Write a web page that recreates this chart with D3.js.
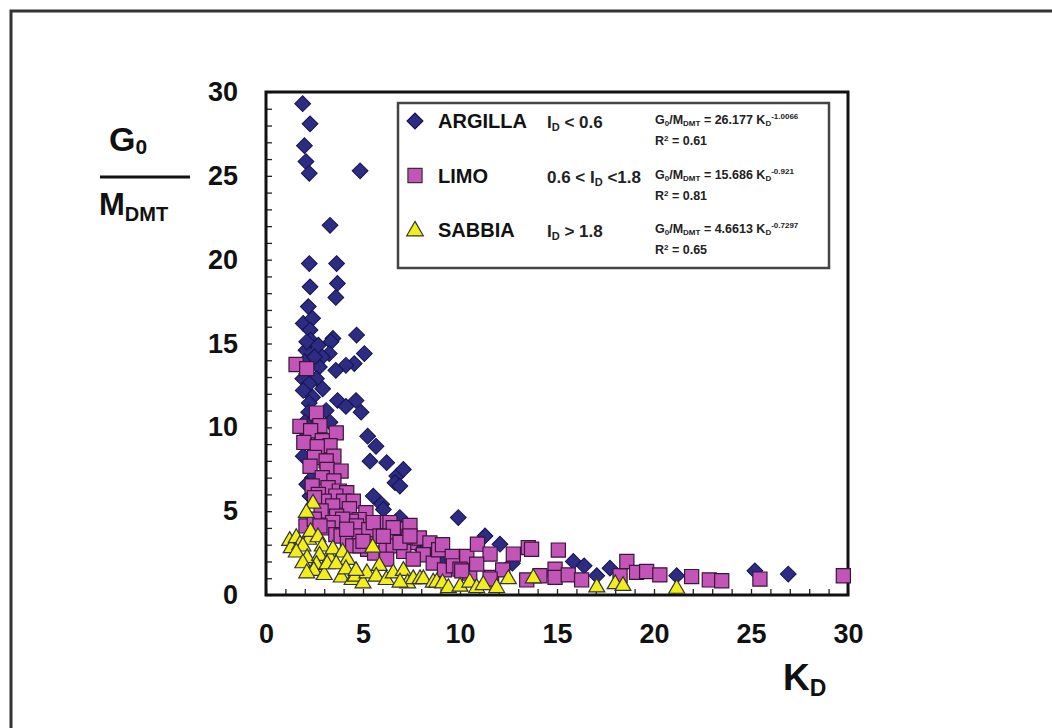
<!DOCTYPE html>
<html>
<head>
<meta charset="utf-8">
<script src="https://cdn.jsdelivr.net/npm/d3@7"></script>
<style>
  body { margin: 0; background: #fff; }
  svg { display: block; font-family: "Liberation Sans", Arial, sans-serif; }
</style>
</head>
<body>
<div id="chart"></div>
<script>
// K_D, G0/M_DMT pairs
const argilla = [
  [1.89,29.3],[2.27,28.1],[1.98,26.8],[2.06,25.85],[2.23,25.15],[4.85,25.3],[3.3,22.05],
  [2.23,19.77],[3.64,19.77],[2.27,18.38],[3.68,18.58],[3.6,17.75],[2.18,17.2],[1.92,16.2],
  [2.4,16.5],[2.27,15.8],[3.45,15.3],[4.67,15.5],[2.06,14.6],[2.3,15.2],[2.1,15.1],[2.7,14.9],
  [3.35,15.1],[5.07,14.4],[3.26,14.4],[2.9,14.2],[4.55,13.8],[4.12,13.7],[3.6,13.4],[2.75,13.6],
  [2.0,13.9],[2.5,14.2],[2.1,13.2],[2.6,12.9],[1.9,12.9],[2.23,12.6],[2.92,12.3],[1.92,12.2],
  [3.69,11.6],[4.64,11.6],[4.12,11.25],[4.9,10.9],[2.4,11.8],[2.23,11.45],[3.1,11.0],
  [2.2,10.9],[2.5,10.5],[3.3,10.3],[2.0,10.3],[2.8,9.6],[5.24,9.47],[2.6,9.0],[5.67,8.87],
  [1.92,8.28],[2.1,9.5],[3.0,8.5],[5.36,7.98],[6.22,7.89],[6.74,7.09],[7.08,7.49],[2.4,7.0],
  [6.65,6.7],[2.1,6.6],[6.9,6.5],[5.53,5.9],[5.96,5.41],[6.05,5.1],[6.9,4.62],[2.27,5.9],
  [2.95,4.32],[4.3,3.6],[7.8,3.0],[8.2,2.7],[9.91,4.62],[11.29,3.52],[12.06,3.03],[9.14,2.3],
  [12.7,1.9],[15.84,2.0],[16.4,1.74],[17.73,1.6],[17.05,1.15],[21.17,1.15],[25.2,1.44],
  [26.92,1.25]
];
const limo = [
  [1.55,13.75],[2.1,13.5],[2.6,10.85],[1.75,10.06],[2.78,10.1],[2.3,9.8],[3.62,9.67],
  [2.9,9.2],[1.95,9.1],[3.3,8.9],[2.64,8.85],[3.5,8.28],[2.5,8.2],[3.1,8.0],[2.27,7.68],
  [3.15,7.49],[3.87,7.39],[2.9,7.0],[3.5,6.8],[2.38,6.5],[3.2,6.4],[3.78,6.2],[4.16,6.1],
  [2.7,6.0],[3.6,5.9],[3.0,5.6],[2.5,5.8],[4.0,5.6],[4.5,5.6],[4.3,5.15],[3.44,5.31],
  [2.84,5.01],[5.15,4.91],[3.64,4.7],[4.8,4.5],[4.4,4.4],[5.84,4.32],[3.95,4.52],[4.66,4.12],
  [3.44,4.32],[3.2,4.0],[3.6,3.6],[3.87,3.52],[4.2,3.3],[4.81,3.52],[5.5,3.72],[5.3,3.9],
  [6.01,3.52],[4.47,2.93],[5.24,2.73],[5.6,2.5],[6.19,2.73],[2.06,4.12],[2.49,4.52],
  [2.78,4.12],[4.16,3.92],[5.53,4.32],[6.39,4.32],[6.91,3.92],[7.42,4.15],[4.85,2.93],
  [5.0,3.2],[5.88,3.52],[6.6,3.5],[6.56,2.93],[7.42,3.13],[7.9,3.4],[7.1,2.6],[8.45,3.1],
  [8.11,2.4],[8.62,1.9],[6.56,4.02],[6.05,3.5],[6.91,3.13],[7.42,3.52],[7.59,2.14],[8.9,2.7],
  [9.1,3.0],[9.2,1.5],[9.6,2.3],[9.66,1.74],[10.35,2.3],[10.9,3.03],[11.55,2.44],[11.63,1.05],
  [10.5,1.3],[10.86,1.84],[12.2,1.5],[12.75,2.44],[13.52,2.83],[13.44,0.9],[6.22,2.14],
  [10.0,1.54],[10.09,1.44],[11.55,0.95],[13.69,2.73],[14.12,1.15],[14.9,1.54],[14.9,1.05],
  [15.07,2.68],[15.58,1.2],[16.27,0.9],[18.25,1.15],[18.6,2.0],[19.1,1.35],[19.62,1.4],
  [20.3,1.2],[21.94,1.1],[22.85,0.9],[23.49,0.85],[25.46,0.95],[29.76,1.15]
];
const sabbia = [
  [2.42,5.45],[2.08,4.9],[1.22,3.23],[1.3,2.8],[1.56,3.4],[1.75,3.0],[2.2,3.3],[2.3,3.77],
  [2.68,3.45],[2.9,2.9],[1.9,2.9],[1.56,2.54],[2.12,2.2],[1.9,1.9],[2.76,2.34],[3.3,2.2],
  [3.45,2.73],[3.95,2.54],[4.2,2.1],[2.6,1.8],[2.46,1.44],[2.1,1.3],[3.0,1.2],[3.15,1.84],
  [3.62,1.84],[3.88,1.05],[4.44,0.9],[4.6,1.1],[5.0,0.7],[5.2,1.3],[5.5,2.83],[5.84,1.74],
  [5.68,1.1],[4.12,1.54],[4.64,1.44],[6.2,0.9],[6.56,1.3],[7.08,1.44],[7.3,0.7],[7.59,0.95],
  [6.91,0.75],[7.94,0.95],[8.11,0.95],[8.62,0.75],[8.8,0.75],[9.1,0.7],[9.4,0.42],[10.0,0.5],
  [10.5,0.75],[10.86,0.42],[11.2,0.6],[11.89,0.42],[12.49,0.95],[13.78,1.0],[17.05,0.46],
  [18.0,0.65],[18.4,0.55],[21.17,0.38]
];

const xTicks = d3.range(0, 31, 1);
const yTicks = d3.range(0, 31, 1);

const legendNames = ["ARGILLA", "LIMO", "SABBIA"];
const legendRanges = [["I", "D", " < 0.6"], ["0.6 < I", "D", " <1.8"], ["I", "D", " > 1.8"]];
const legendCoefs = ["26.177", "15.686", "4.6613"];
const legendExps = ["-1.0066", "-0.921", "-0.7297"];
const legendR2 = ["0.61", "0.81", "0.65"];

const width = 1052, height = 728;
const svg = d3.select("#chart").append("svg").attr("width", width).attr("height", height);

// outer frame (cropped on right/bottom)
svg.append("rect").attr("x", 11).attr("y", 11).attr("width", 1200).attr("height", 900)
  .attr("fill", "none").attr("stroke", "#333").attr("stroke-width", 3);

const x = d3.scaleLinear().domain([0, 30]).range([266, 848]);
const y = d3.scaleLinear().domain([0, 30]).range([595, 92]);

const xAxis = svg.append("g").attr("transform", `translate(0,${y(0)})`)
  .call(d3.axisBottom(x).tickValues(xTicks).tickSizeInner(-6).tickSizeOuter(0).tickPadding(29)
    .tickFormat(d => d % 5 === 0 ? d : ""));
const yAxis = svg.append("g").attr("transform", `translate(${x(0)},0)`)
  .call(d3.axisLeft(y).tickValues(yTicks).tickSizeInner(-6).tickSizeOuter(0).tickPadding(28)
    .tickFormat(d => d % 5 === 0 ? d : ""));
[xAxis, yAxis].forEach(g => {
  g.select(".domain").remove();
  g.selectAll("line").attr("stroke", "#222").attr("stroke-width", 1.3);
  g.selectAll("text").attr("font-size", 27).attr("font-weight", "bold").attr("fill", "#111")
    .attr("font-family", "Liberation Sans, Arial, sans-serif");
});

// plot box
svg.append("rect").attr("x", x(0)).attr("y", y(30))
  .attr("width", x(30) - x(0)).attr("height", y(0) - y(30))
  .attr("fill", "none").attr("stroke", "#111").attr("stroke-width", 3);

const diamond = d3.symbol().type(d3.symbolSquare).size(125);
const square = d3.symbol().type(d3.symbolSquare).size(200);
const triangle = d3.symbol().type(d3.symbolTriangle).size(110);

const plot = svg.append("g");
plot.selectAll(".arg").data(argilla).enter().append("path")
  .attr("d", diamond)
  .attr("transform", d => `translate(${x(d[0])},${y(d[1])}) rotate(45)`)
  .attr("fill", "#2c2c85").attr("stroke", "#15154a").attr("stroke-width", 1);
plot.selectAll(".lim").data(limo).enter().append("path")
  .attr("d", square)
  .attr("transform", d => `translate(${x(d[0])},${y(d[1])})`)
  .attr("fill", "#c355b8").attr("stroke", "#3a163a").attr("stroke-width", 1.2);
plot.selectAll(".sab").data(sabbia).enter().append("path")
  .attr("d", triangle)
  .attr("transform", d => `translate(${x(d[0])},${y(d[1])})`)
  .attr("fill", "#f2ee1c").attr("stroke", "#333").attr("stroke-width", 1.2);

// legend
const lg = svg.append("g");
lg.append("rect").attr("x", 398).attr("y", 103).attr("width", 431).attr("height", 165)
  .attr("fill", "#fff").attr("stroke", "#444").attr("stroke-width", 2.5);
const markers = [diamond, square, d3.symbol().type(d3.symbolTriangle).size(120)];
const fills = ["#2c2c85", "#c355b8", "#f2ee1c"];
legendNames.forEach((name, i) => {
  const cy = 121 + i * 54.5;
  lg.append("path").attr("d", markers[i])
    .attr("transform", `translate(415,${cy + (i === 2 ? 1 : 0)})${i === 0 ? " rotate(45)" : ""}`)
    .attr("fill", fills[i]).attr("stroke", i === 0 ? "#15154a" : "#333").attr("stroke-width", 1.2);
  lg.append("text").attr("x", 438).attr("y", cy + 7).attr("font-size", 20).attr("font-weight", "bold")
    .attr("fill", "#111").text(name);
  const r = lg.append("text").attr("x", 547).attr("y", cy + 7).attr("font-size", 17)
    .attr("font-weight", "bold").attr("fill", "#222");
  r.append("tspan").text(legendRanges[i][0]);
  r.append("tspan").attr("font-size", 11).attr("dy", 3).text(legendRanges[i][1]);
  r.append("tspan").attr("dy", -3).text(legendRanges[i][2]);

  const f = lg.append("text").attr("x", 655).attr("y", cy + 3).attr("font-size", 12.5)
    .attr("font-weight", "bold").attr("fill", "#222");
  f.append("tspan").text("G");
  f.append("tspan").attr("font-size", 8).attr("dy", 2).text("0");
  f.append("tspan").attr("dy", -2).text("/M");
  f.append("tspan").attr("font-size", 8).attr("dy", 2).text("DMT");
  f.append("tspan").attr("dy", -2).text(" = " + legendCoefs[i] + " K");
  f.append("tspan").attr("font-size", 8).attr("dy", 2).text("D");
  f.append("tspan").attr("font-size", 8).attr("dy", -7).text(legendExps[i]);

  const rr = lg.append("text").attr("x", 655).attr("y", cy + 24).attr("font-size", 12.5)
    .attr("font-weight", "bold").attr("fill", "#222");
  rr.append("tspan").text("R");
  rr.append("tspan").attr("font-size", 8).attr("dy", -4).text("2");
  rr.append("tspan").attr("dy", 4).text(" = " + legendR2[i]);
});

// y axis title G0 / MDMT
const yt = svg.append("g").attr("font-weight", "bold").attr("fill", "#111");
const g0 = yt.append("text").attr("x", 109).attr("y", 151).attr("font-size", 34);
g0.append("tspan").text("G");
g0.append("tspan").attr("font-size", 21).attr("dy", 3).text("0");
yt.append("line").attr("x1", 100).attr("x2", 190).attr("y1", 177).attr("y2", 177)
  .attr("stroke", "#111").attr("stroke-width", 3);
const md = yt.append("text").attr("x", 99).attr("y", 215).attr("font-size", 31);
md.append("tspan").text("M");
md.append("tspan").attr("font-size", 20).attr("dy", 6).text("DMT");

// x axis title KD
const kd = svg.append("text").attr("x", 783).attr("y", 690).attr("font-size", 37)
  .attr("font-weight", "bold").attr("fill", "#111");
kd.append("tspan").text("K");
kd.append("tspan").attr("font-size", 23).attr("dy", 6).text("D");
</script>
</body>
</html>
